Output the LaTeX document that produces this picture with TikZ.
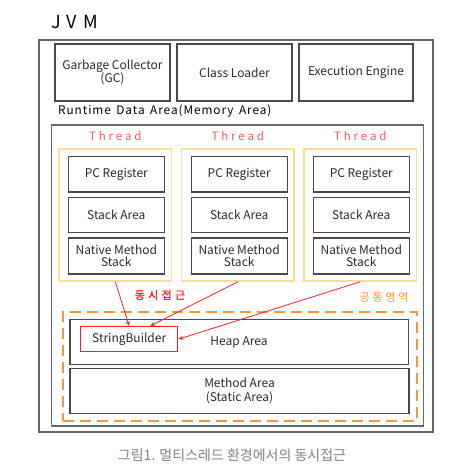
\documentclass[tikz,border=0pt]{standalone}
\usepackage{fontspec}
\setmainfont{Noto Sans CJK KR}
\newfontfamily\spaced[LetterSpace=25]{Noto Sans CJK KR}
\newfontfamily\spacedb[LetterSpace=30,FakeBold=1.5]{Noto Sans CJK KR}
\newfontfamily\spacedr[LetterSpace=8]{Noto Sans CJK KR}
\newfontfamily\spacedt[LetterSpace=12]{Noto Sans CJK KR}
\usetikzlibrary{arrows.meta,calc}
\definecolor{boxline}{HTML}{4A4A4A}
\definecolor{outerline}{HTML}{6A6A6A}
\definecolor{txt}{HTML}{2B2B2B}
\definecolor{thr}{HTML}{FF5555}
\definecolor{yel}{HTML}{FFE08A}
\definecolor{org}{HTML}{F7963A}
\definecolor{arr}{HTML}{FF1E1E}
\definecolor{cap}{HTML}{808080}
\tikzset{
  box/.style={draw=boxline, line width=1.1pt, inner sep=0pt, align=center, text=txt, font=\fontsize{12}{13.5}\selectfont},
  ybox/.style={draw=yel, line width=1.6pt, inner sep=0pt},
  sbbox/.style={draw=arr, line width=1.4pt, inner sep=0pt, text=txt, font=\fontsize{12}{13.5}\selectfont},
  thrlabel/.style={text=thr, font=\spaced\fontsize{11.5}{13}\selectfont, inner sep=0pt},
  redarrow/.style={draw=arr, line width=0.8pt, -{Stealth[length=5pt,width=4pt]}},
}
\begin{document}
\begin{tikzpicture}[x=1pt,y=-1pt]
\useasboundingbox (0,0) rectangle (454,470);
% outer JVM
\node[draw=outerline, line width=1.3pt, minimum width=394pt, minimum height=392pt, inner sep=0pt] (jvm) at (236,236) {};
\node[font=\spacedt\fontsize{18}{20}\selectfont, text=black, inner sep=0pt] (jvmlabel) at (74.5,22) {J V M};
% top boxes
\node[box, minimum width=115pt, minimum height=57pt] (gc) at (112.5,72.5) {Garbage Collector\\(GC)};
\node[box, minimum width=115pt, minimum height=57pt] (cl) at (234.5,72.5) {Class Loader};
\node[box, minimum width=114pt, minimum height=57pt] (ee) at (356,72.5) {Execution Engine};
\node[anchor=west, inner sep=0pt, text=black, font=\spacedr\fontsize{11.8}{13}\selectfont] (rtlabel) at (58,111) {Runtime\, Data\, Area(Memory\, Area)};
% runtime area
\node[draw=outerline, line width=1.2pt, minimum width=372pt, minimum height=301pt, inner sep=0pt] (rt) at (237.6,275.5) {};
% threads
\foreach \i/\cx/\ix in {1/115.3/116.3, 2/237.8/239.2, 3/360.3/361.3} {
  \node[thrlabel] (t\i) at (\cx,136) {Thread};
  \node[ybox, minimum width=112.7pt, minimum height=132pt] (y\i) at (\cx,215) {};
  \node[box, minimum width=96pt, minimum height=35.3pt] (pc\i) at (\ix,174.3) {PC Register};
  \node[box, minimum width=96pt, minimum height=35.3pt] (sa\i) at (\ix,215) {Stack Area};
  \node[box, minimum width=96pt, minimum height=36pt] (nm\i) at (\ix,256) {Native Method\\[-1pt]Stack};
}
% common area
\node[draw=org, line width=1.8pt, dash pattern=on 11pt off 6pt, minimum width=354pt, minimum height=109pt, inner sep=0pt] (common) at (239.6,366.2) {};
\node[text=org, font=\spaced\fontsize{11}{13}\selectfont, inner sep=0pt] (commonlabel) at (384,297) {공통영역};
\node[text=arr, font=\spacedb\fontsize{11}{13}\selectfont, inner sep=0pt] (conclabel) at (160,295) {동시접근};
\node[box, minimum width=338.5pt, minimum height=44.7pt] (heap) at (239.2,341.7) {};
\node[text=txt, font=\fontsize{12}{13.5}\selectfont, inner sep=0pt] (heaplabel) at (239,342) {Heap Area};
\node[box, minimum width=339pt, minimum height=44.8pt] (method) at (239.5,390.9) {Method Area\\(Static Area)};
\node[sbbox, minimum width=97pt, minimum height=25pt] (sb) at (129.2,339.2) {StringBuilder};
% arrows
\draw[redarrow] (y1.south) -- (sb.north);
\draw[redarrow] (y2.south) -- ([xshift=21pt]sb.north);
\draw[redarrow] (y3.south) -- (sb.east);
% caption
\node[text=cap, font=\fontsize{14}{16}\selectfont, inner sep=0pt] (caption) at (232,455) {그림1. 멀티스레드 환경에서의 동시접근};
\end{tikzpicture}
\end{document}
